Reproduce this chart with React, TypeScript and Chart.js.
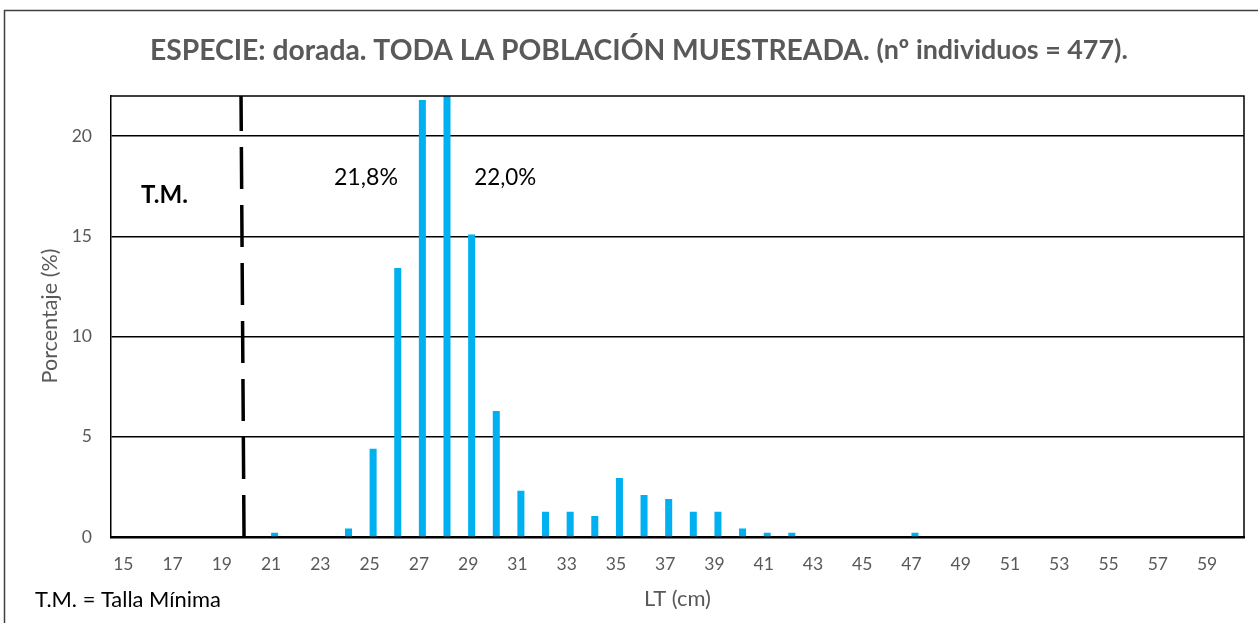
import React, { useEffect, useRef } from "react";
import { Chart, registerables } from "chart.js";

Chart.register(...registerables);

// length classes 15..60 cm (60 shown without label)
const lengths: number[] = [];
for (let v = 15; v <= 60; v++) lengths.push(v);
const categories = lengths.map(String);

// percentage of individuals per length class (n = 477)
const barLengths = [21, 24, 25, 26, 27, 28, 29, 30, 31, 32, 33, 34, 35, 36, 37, 38, 39, 40, 41, 42, 47];
const barPercents = [0.21, 0.42, 4.4, 13.42, 21.8, 22.01, 15.09, 6.29, 2.31, 1.26, 1.26, 1.05, 2.94, 2.1, 1.89, 1.26, 1.26, 0.42, 0.21, 0.21, 0.21];

const percentValues = lengths.map((l) => {
  const i = barLengths.indexOf(l);
  return i >= 0 ? barPercents[i] : 0;
});

const yTicks = [0, 5, 10, 15, 20];
const yMax = 22;
const minLegalSize = 19.84; // T.M. position on the length axis
const peakLabels = [
  { text: "21,8%", length: 27 },
  { text: "22,0%", length: 28 },
];

const titleMain = "ESPECIE: dorada. TODA LA POBLACIÓN MUESTREADA.";
const titleSub = " (nº individuos = 477).";
const yTitle = "Porcentaje (%)";
const xTitle = "LT (cm)";
const footnote = "T.M. = Talla Mínima";
const tmLabel = "T.M.";

const FONT = "Lato, 'Open Sans', sans-serif";
const GRAY = "#595959";

function fitFont(ctx: CanvasRenderingContext2D, text: string, weight: string, width: number) {
  ctx.font = `${weight} 100px ${FONT}`;
  const w = ctx.measureText(text).width;
  const size = (100 * width) / w;
  ctx.font = `${weight} ${size}px ${FONT}`;
  return size;
}

// bars sit slightly right of the category centre (as in the source, clustered layout)
const barShiftPlugin = {
  id: "barShift",
  beforeDatasetsDraw(chart: any) {
    chart.ctx.save();
    chart.ctx.translate(3.5, 0);
  },
  afterDatasetsDraw(chart: any) {
    chart.ctx.restore();
  },
};

const decorPlugin = {
  id: "decor",
  afterDraw(chart: any) {
    const ctx: CanvasRenderingContext2D = chart.ctx;
    const area = chart.chartArea;
    const xs = chart.scales.x;
    ctx.save();

    // outer frame
    ctx.strokeStyle = "#404040";
    ctx.lineWidth = 1.5;
    ctx.beginPath();
    ctx.moveTo(4.5, 640);
    ctx.lineTo(4.5, 10.5);
    ctx.lineTo(1258, 10.5);
    ctx.stroke();

    // plot frame (top & right)
    ctx.strokeStyle = "#000";
    ctx.lineWidth = 1.5;
    ctx.beginPath();
    ctx.moveTo(area.left, area.top);
    ctx.lineTo(area.right, area.top);
    ctx.lineTo(area.right, area.bottom);
    ctx.stroke();

    // title
    ctx.fillStyle = GRAY;
    ctx.textBaseline = "alphabetic";
    ctx.textAlign = "left";
    fitFont(ctx, titleMain, "bold", 720);
    ctx.fillText(titleMain, 150, 60);
    fitFont(ctx, titleSub, "bold", 258);
    ctx.fillText(titleSub, 870, 59);

    // y axis title
    ctx.save();
    ctx.translate(57, 316);
    ctx.rotate(-Math.PI / 2);
    ctx.textAlign = "center";
    fitFont(ctx, yTitle, "normal", 135);
    ctx.fillText(yTitle, 0, 0);
    ctx.restore();

    // x axis title
    ctx.textAlign = "left";
    fitFont(ctx, xTitle, "normal", 67);
    ctx.fillText(xTitle, 644, 606);

    // footnote
    ctx.fillStyle = "#000";
    fitFont(ctx, footnote, "normal", 186);
    ctx.fillText(footnote, 35, 607);

    // T.M. label
    fitFont(ctx, tmLabel, "bold", 47);
    ctx.fillText(tmLabel, 141, 203);

    // peak labels
    const i27 = lengths.indexOf(peakLabels[0].length);
    const i28 = lengths.indexOf(peakLabels[1].length);
    const step = xs.getPixelForValue(1) - xs.getPixelForValue(0);
    fitFont(ctx, peakLabels[0].text, "normal", 64);
    ctx.textAlign = "right";
    ctx.fillText(peakLabels[0].text, xs.getPixelForValue(i27) - step * 0.85, 185);
    ctx.textAlign = "left";
    fitFont(ctx, peakLabels[1].text, "normal", 62);
    ctx.fillText(peakLabels[1].text, xs.getPixelForValue(i28) + step * 1.25, 185);

    // minimum size dashed line
    const i0 = lengths.indexOf(Math.floor(minLegalSize));
    const frac = minLegalSize - Math.floor(minLegalSize);
    const px = xs.getPixelForValue(i0) + frac * step;
    ctx.strokeStyle = "#000";
    ctx.lineWidth = 3.5;
    ctx.setLineDash([42, 16]);
    ctx.beginPath();
    ctx.moveTo(px + 1.5, area.bottom);
    ctx.lineTo(px - 1.5, area.top);
    ctx.stroke();
    ctx.setLineDash([]);

    ctx.restore();
  },
};

export default function App() {
  const ref = useRef<HTMLCanvasElement | null>(null);

  useEffect(() => {
    if (!ref.current) return;
    const chart = new Chart(ref.current, {
      type: "bar",
      data: {
        labels: categories,
        datasets: [
          {
            data: percentValues,
            backgroundColor: "#00B0F0",
            borderWidth: 0,
            categoryPercentage: 1,
            barPercentage: 0.285,
          },
        ],
      },
      options: {
        animation: false,
        responsive: false,
        maintainAspectRatio: false,
        layout: { padding: { left: 0, right: 14, top: 96, bottom: 0 } },
        plugins: {
          legend: { display: false },
          tooltip: { enabled: false },
          title: { display: false },
        },
        scales: {
          x: {
            grid: { display: false, drawTicks: false },
            border: { display: true, color: "#000", width: 2.5 },
            ticks: {
              autoSkip: false,
              maxRotation: 0,
              padding: 17,
              color: GRAY,
              font: { family: FONT, size: 17.5 },
              callback: (_v: any, i: number) => (i % 2 === 0 && lengths[i] < 60 ? categories[i] : ""),
            },
            afterFit: (s: any) => {
              s.height = 86;
            },
          },
          y: {
            min: 0,
            max: yMax,
            afterBuildTicks: (s: any) => {
              s.ticks = yTicks.map((v) => ({ value: v }));
            },
            grid: { color: "#000", lineWidth: 1.6, drawTicks: false },
            border: { display: true, color: "#000", width: 1.5 },
            ticks: {
              padding: 19,
              color: GRAY,
              font: { family: FONT, size: 17.5 },
            },
            afterFit: (s: any) => {
              s.width = 111;
            },
          },
        },
      },
      plugins: [barShiftPlugin, decorPlugin],
    });
    return () => chart.destroy();
  }, []);

  return (
    <div style={{ position: "fixed", left: 0, top: 0, width: 1258, height: 623, background: "#fff" }}>
      <canvas ref={ref} width={1258} height={623} style={{ display: "block", width: 1258, height: 623 }} />
    </div>
  );
}
